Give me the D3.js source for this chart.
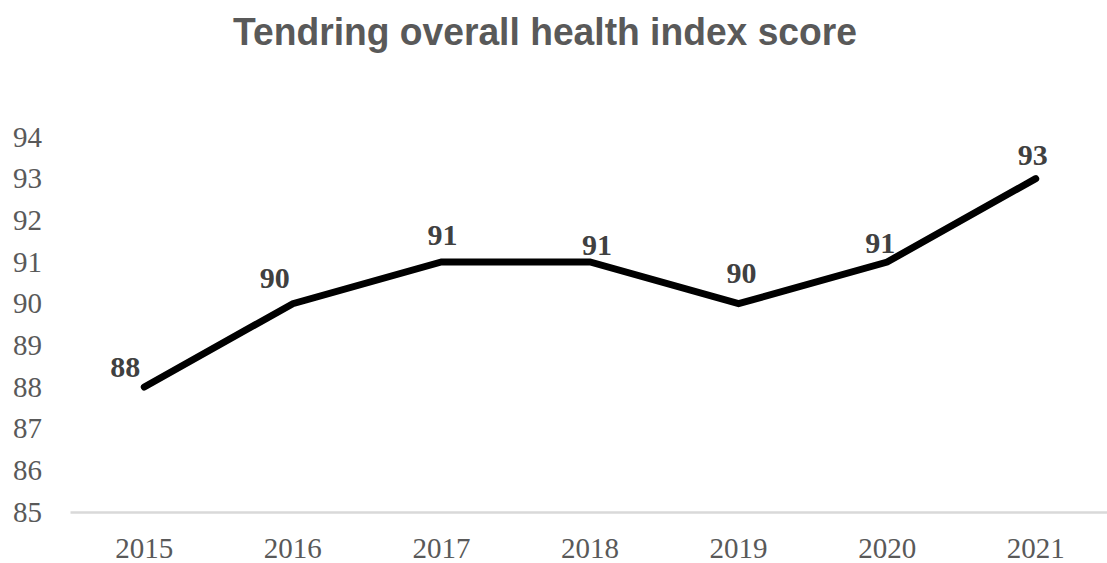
<!DOCTYPE html>
<html>
<head>
<meta charset="utf-8">
<script src="https://cdn.jsdelivr.net/npm/d3@7"></script>
<style>
  body { margin: 0; background: #fff; }
  .title { font-family: "Liberation Sans Narrow", "Arial Narrow", "Liberation Sans", Arial, sans-serif; font-weight: bold; fill: #595959; }
  .tick-label { font-family: "Liberation Serif", "DejaVu Serif", serif; fill: #595959; }
  .data-label { font-family: "Liberation Serif", "DejaVu Serif", serif; font-weight: bold; fill: #404040; }
</style>
</head>
<body>
<div id="vis"></div>
<script>
// Chart data
const years = ['2015', '2016', '2017', '2018', '2019', '2020', '2021'];
const scores = [88, 90, 91, 91, 90, 91, 93];
const yTicks = [85, 86, 87, 88, 89, 90, 91, 92, 93, 94];

// Label nudges (px) to mimic the reference label placement
const labelDx = [-19, -18, 1, 7, 3, -7, -3];
const labelDy = [-10, -16, -17, -7, -21, -9, -14];

const W = 1107, H = 563;
const margin = { top: 137, right: 0, bottom: 51, left: 70 };

const svg = d3.select('#vis')
    .append('svg')
    .attr('width', W)
    .attr('height', H);

// Title
svg.append('text')
    .attr('class', 'title')
    .attr('x', 545)
    .attr('y', 45)
    .attr('text-anchor', 'middle')
    .attr('textLength', 624)
    .attr('lengthAdjust', 'spacingAndGlyphs')
    .style('font-size', '38px')
    .text('Tendring overall health index score');

// Scales
const xScale = d3.scaleBand()
    .domain(years)
    .range([margin.left, W + 3 - margin.right]);

const yScale = d3.scaleLinear()
    .domain([85, 94])
    .range([H - margin.bottom, margin.top]);

// Y axis labels (no line, no ticks)
const yAxis = d3.axisLeft(yScale).tickValues(yTicks).tickSize(0).tickPadding(0);
svg.append('g')
    .attr('class', 'axis y-axis')
    .attr('transform', 'translate(42,0)')
    .call(yAxis)
    .call(g => g.select('.domain').remove())
    .call(g => g.selectAll('text')
        .attr('class', 'tick-label')
        .style('font-size', '29px')
        .attr('fill', null));

// X axis baseline + labels
const xAxis = d3.axisBottom(xScale).tickSize(0).tickPadding(25);
svg.append('g')
    .attr('class', 'axis x-axis')
    .attr('transform', `translate(0,${yScale(85)})`)
    .call(xAxis)
    .call(g => g.select('.domain').attr('stroke', '#d9d9d9').attr('stroke-width', 2.5))
    .call(g => g.selectAll('text')
        .attr('class', 'tick-label')
        .style('font-size', '29px')
        .attr('fill', null));

// Line
const line = d3.line()
    .x((d, i) => xScale(years[i]) + xScale.bandwidth() / 2)
    .y(d => yScale(d));

svg.append('path')
    .datum(scores)
    .attr('fill', 'none')
    .attr('stroke', '#000')
    .attr('stroke-width', 7)
    .attr('stroke-linejoin', 'miter')
    .attr('stroke-linecap', 'round')
    .attr('d', line);

// Data labels
svg.selectAll('.data-label')
    .data(scores)
    .join('text')
    .attr('class', 'data-label')
    .attr('x', (d, i) => xScale(years[i]) + xScale.bandwidth() / 2 + labelDx[i])
    .attr('y', (d, i) => yScale(d) + labelDy[i])
    .attr('text-anchor', 'middle')
    .style('font-size', '30px')
    .text(d => d);
</script>
</body>
</html>
